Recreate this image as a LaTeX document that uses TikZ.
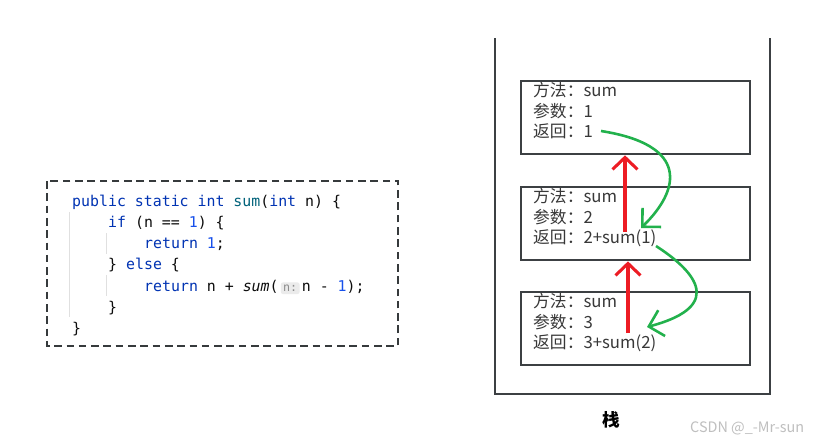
\documentclass[tikz,border=0pt]{standalone}
\usepackage{fontspec}
\setmonofont{DejaVu Sans Mono}
\newfontfamily\cjk{Noto Sans CJK SC}
\usetikzlibrary{arrows.meta,positioning}

\definecolor{kwblue}{RGB}{0,51,179}
\definecolor{fnteal}{RGB}{0,98,122}
\definecolor{numblue}{RGB}{23,80,235}
\definecolor{framegray}{RGB}{60,64,67}
\definecolor{paintred}{RGB}{237,28,36}
\definecolor{paintgreen}{RGB}{34,177,76}

\newcommand{\kw}[1]{\textcolor{kwblue}{#1}}
\newcommand{\num}[1]{\textcolor{numblue}{#1}}

\tikzset{
  codeline/.style={anchor=mid west, inner sep=0pt, font=\ttfamily\fontsize{12.7}{14}\selectfont, text={black!95}},
  hintbox/.style={inner xsep=2pt, inner ysep=2.2pt, rounded corners=2pt, fill=black!8,
    font=\ttfamily\fontsize{10}{11}\selectfont, text=black!45},
  frame/.style={draw=framegray, line width=1.7pt, minimum width=6.87cm, minimum height=2.2cm, inner sep=0pt},
  info/.style={anchor=mid west, inner sep=0pt, font=\cjk\fontsize{14.3}{16}\selectfont, text=black!78},
  pushup/.style={draw=paintred, line width=2.6pt, -{Straight Barb[length=0.36cm, width=0.75cm]}},
  popback/.style={draw=paintgreen, line width=2.2pt, -{Straight Barb[length=0.4cm, width=0.8cm]}},
}

\begin{document}
\begin{tikzpicture}[x=0.03cm, y=-0.03cm]
  \useasboundingbox[fill=white] (0,0) rectangle (816,444);

  % code
  \draw[framegray!90!black, line width=1.7pt, dash pattern=on 6.5pt off 4pt] (47,181) rectangle (398,346);
  \draw[black!12, line width=0.5pt] (69,212) -- (69,317);
  \draw[black!12, line width=0.5pt] (106,233) -- (106,254);
  \draw[black!12, line width=0.5pt] (106,275) -- (106,296);

  \node[codeline] (c1) at (72,204) {\kw{public static int} \textcolor{fnteal}{sum}(\kw{int} n) \{};
  \node[codeline] (c2) at (108,225) {\kw{if} (n == \num{1}) \{};
  \node[codeline] (c3) at (144,246) {\kw{return} \num{1};};
  \node[codeline] (c4) at (108,267) {\} \kw{else} \{};
  \node[codeline] (c5) at (144,289) {\kw{return} n + \textit{sum}(};
  \node[hintbox, anchor=base west] (hint) at ([xshift=1.5pt]c5.base east) {n:};
  \node[codeline, anchor=base west] (c5b) at ([xshift=1.5pt]hint.base east) {n - \num{1});};
  \node[codeline] (c6) at (108,310) {\}};
  \node[codeline] (c7) at (72,331) {\}};

  % stack
  \draw[framegray, line width=1.7pt] (495,38) -- (495,394) -- (770,394) -- (770,38);
  \foreach \i/\top/\arg/\ret in {1/80/1/1, 2/186/2/2+sum(1), 3/291/3/3+sum(2)} {
    \node[frame, anchor=north west] (f\i) at (520,\top) {};
    \node[info] (m\i) at (533,\top+14) {方法：sum};
    \node[info] (p\i) at (533,\top+34.5) {参数：\arg};
    \node[info] (r\i) at (533,\top+54.5) {返回：\ret};
  }
  \node[font=\cjk\bfseries\fontsize{15}{18}\selectfont] (stack) at (611,420) {栈};

  % calls and returns
  \coordinate (up1) at (625,232);
  \coordinate (up2) at (628,333);
  \draw[pushup] (up1) -- (up1 |- f1.south);
  \draw[pushup] (up2) -- (up2 |- f2.south);

  \coordinate (g1a) at (601,131);
  \coordinate (g1b) at (641,228);
  \coordinate (g2a) at (656,246);
  \coordinate (g2b) at (647,327);
  \draw[popback] (g1a) .. controls (690,145) and (680,190) .. (g1b);
  \draw[popback] (g2a) .. controls (690,268) and (730,305) .. (g2b);

  \node[anchor=mid west, inner sep=0pt, font=\cjk\fontsize{12.3}{14}\selectfont, text=black!25] (mark) at (690,430) {CSDN @\_-Mr-sun};
\end{tikzpicture}
\end{document}
